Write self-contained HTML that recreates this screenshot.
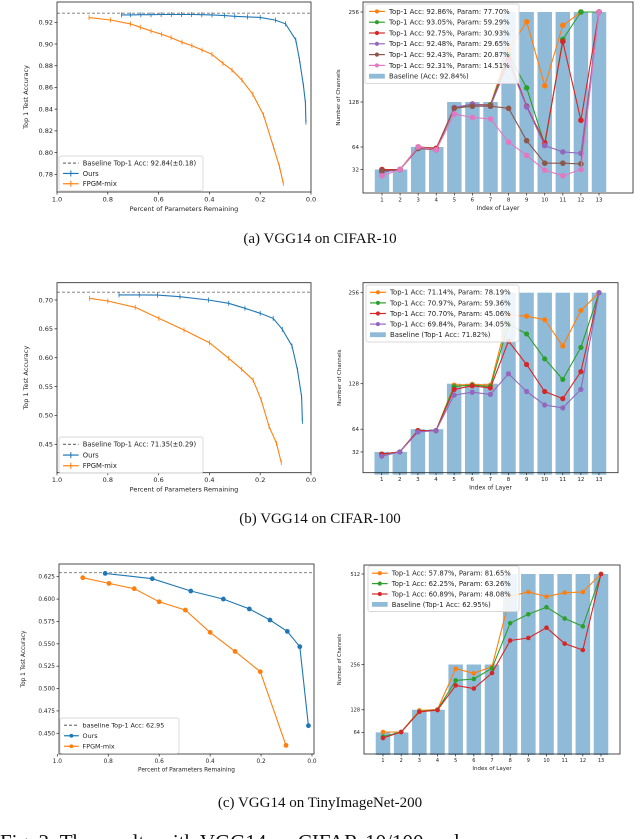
<!DOCTYPE html>
<html><head><meta charset="utf-8">
<style>
html,body{margin:0;padding:0;background:#fff;}
svg{display:block;font-family:"DejaVu Sans","Liberation Sans",sans-serif;}
.cap{font-family:"Liberation Serif",serif;}
</style></head>
<body>
<svg id="fig" width="640" height="839" viewBox="0 0 640 839" xmlns="http://www.w3.org/2000/svg">
<rect width="640" height="839" fill="#fff"/>
<text class="cap" x="320" y="243" font-size="15" text-anchor="middle" fill="#111">(a) VGG14 on CIFAR-10</text>
<text class="cap" x="320" y="523" font-size="15" text-anchor="middle" fill="#111">(b) VGG14 on CIFAR-100</text>
<text class="cap" x="320" y="807" font-size="15" text-anchor="middle" fill="#111">(c) VGG14 on TinyImageNet-200</text>
<text class="cap" x="0" y="849" font-size="21" fill="#111">Fig. 3:  The results with VGG14 on CIFAR-10/100 and</text>
</svg>
<script>
// ---- Chart A (CIFAR-10) ----
const aOursP=[0.746,0.71,0.67,0.63,0.59,0.55,0.51,0.47,0.43,0.39,0.34,0.3,0.25,0.2,0.14,0.1,0.06,0.045,0.03,0.022,0.02];
const aOursAcc=[0.9268,0.9268,0.927,0.927,0.9272,0.9272,0.9272,0.9272,0.927,0.9268,0.9262,0.9255,0.925,0.9245,0.922,0.9185,0.9037,0.885,0.862,0.846,0.828];
const aFpgmP=[0.874,0.789,0.711,0.672,0.63,0.589,0.551,0.508,0.469,0.429,0.39,0.347,0.311,0.272,0.229,0.187,0.148,0.124,0.109];
const aFpgmAcc=[0.9243,0.9221,0.9185,0.9154,0.912,0.909,0.9059,0.9016,0.8985,0.8945,0.8905,0.8822,0.876,0.8668,0.8537,0.8346,0.8054,0.787,0.7716];
const aBaseline=0.9284;
const aYTicks=[0.78,0.80,0.82,0.84,0.86,0.88,0.90,0.92];
const layers=[1,2,3,4,5,6,7,8,9,10,11,12,13];
const aBars=[32,32,64,64,128,128,128,256,256,256,256,256,256];
const aS1=[31,32,64,62,120,124,124,203,242,151,237,256,256];
const aS2=[31,32,64,62,120,124,124,195,148,67,217,256,256];
const aS3=[32,32,64,62,120,125,123,190,122,70,214,102,256];
const aS4=[28,32,62,60,120,125,122,185,121,66,57,55,256];
const aS5=[30,32,62,60,119,122,122,119,73,41,41,40,256];
const aS6=[23,32,64,60,111,106,104,71,52,31,23,32,256];
const aLegend=["Top-1 Acc: 92.86%, Param: 77.70%","Top-1 Acc: 93.05%, Param: 59.29%","Top-1 Acc: 92.75%, Param: 30.93%","Top-1 Acc: 92.48%, Param: 29.65%","Top-1 Acc: 92.43%, Param: 20.87%","Top-1 Acc: 92.31%, Param: 14.51%"];
const chanTicksAB=[32,64,128,256];
// ---- Chart B (CIFAR-100) ----
const bOursP=[0.756,0.676,0.604,0.516,0.404,0.324,0.26,0.2,0.149,0.113,0.075,0.053,0.037,0.034];
const bOursAcc=[0.7088,0.7088,0.7085,0.7058,0.70,0.6942,0.6856,0.6769,0.6682,0.6492,0.6203,0.5788,0.5326,0.4893];
const bFpgmP=[0.872,0.8,0.692,0.599,0.5,0.4,0.324,0.273,0.228,0.196,0.165,0.136,0.117];
const bFpgmAcc=[0.7029,0.6983,0.6873,0.6682,0.648,0.6261,0.599,0.58,0.5614,0.5268,0.4806,0.4517,0.4182];
const bBaseline=0.7135;
const bYTicks=[0.45,0.50,0.55,0.60,0.65,0.70];
const bS1=[29,32,62,62,126,127,126,225,223,218,181,231,256];
const bS2=[29,32,62,62,124,126,124,212,198,163,134,179,256];
const bS3=[29,32,62,62,120,125,122,188,155,117,107,145,256];
const bS4=[26,32,60,62,112,116,113,142,117,98,94,120,256];
const bLegend=["Top-1 Acc: 71.14%, Param: 78.19%","Top-1 Acc: 70.97%, Param: 59.36%","Top-1 Acc: 70.70%, Param: 45.06%","Top-1 Acc: 69.84%, Param: 34.05%"];
// ---- Chart C (TinyImageNet) ----
const cOursP=[0.812,0.627,0.476,0.348,0.246,0.165,0.097,0.048,0.014];
const cOursAcc=[0.6287,0.6228,0.609,0.600,0.589,0.5766,0.5639,0.5468,0.4585];
const cFpgmP=[0.90,0.797,0.698,0.60,0.497,0.40,0.302,0.203,0.102];
const cFpgmAcc=[0.6239,0.6175,0.6116,0.597,0.5877,0.5628,0.5415,0.5188,0.4365];
const cBaseline=0.6295;
const cYTicks=[0.450,0.475,0.500,0.525,0.550,0.575,0.600,0.625];
const cBars=[64,64,128,128,256,256,256,512,512,512,512,512,512];
const cS1=[65,65,126,129,244,231,250,449,461,448,459,461,512];
const cS2=[52,65,123,128,211,215,245,373,398,418,386,364,512];
const cS3=[48,65,122,127,197,188,232,324,331,360,315,297,512];
const cLegend=["Top-1 Acc: 57.87%, Param: 81.65%","Top-1 Acc: 62.25%, Param: 63.26%","Top-1 Acc: 60.89%, Param: 48.08%"];
const chanTicksC=[64,128,256,512];
const xTicksP=[1.0,0.8,0.6,0.4,0.2,0.0];

const NS="http://www.w3.org/2000/svg";
const svg=document.getElementById('fig');
const C={blue:"#1f77b4",orange:"#ff7f0e",green:"#2ca02c",red:"#d62728",purple:"#9467bd",brown:"#8c564b",pink:"#e377c2"};
function lin(d0,d1,r0,r1){return v=>r0+(v-d0)*(r1-r0)/(d1-d0);}
function mk(tag,attrs,parent){const e=document.createElementNS(NS,tag);for(const k in attrs)e.setAttribute(k,attrs[k]);(parent||svg).appendChild(e);return e;}
function grp(name){const g=mk('g',{});return g;}
function txt(g,x,y,s,size,anchor,rot){const t=mk('text',{x:x,y:y,'font-size':size,'text-anchor':anchor||'middle',fill:'#222'},g);if(rot)t.setAttribute('transform','rotate(-90 '+x+' '+y+')');t.textContent=s;return t;}

function frame(g,b){
  mk('rect',{x:b.l,y:b.t,width:b.r-b.l,height:b.b-b.t,fill:'none',stroke:'#222','stroke-width':0.8},g);
}
function xticks(g,b,vals,xs,fmt,fs){
  vals.forEach(v=>{const x=xs(v);mk('line',{x1:x,x2:x,y1:b.b,y2:b.b+2.5,stroke:'#222','stroke-width':0.7},g);
    const t=txt(g,x,b.b+fs+3,fmt(v),fs);});
}
function yticks(g,b,vals,ys,fmt,fs){
  vals.forEach(v=>{const y=ys(v);mk('line',{x1:b.l-2.5,x2:b.l,y1:y,y2:y,stroke:'#222','stroke-width':0.7},g);
    const t=txt(g,b.l-4,y+fs*0.35,fmt(v),fs,'end');});
}
function series(g,xs,ys,px,py,color,name,opt){
  const sg=mk('g',{},g);
  const pts=px.map((p,i)=>xs(p).toFixed(1)+','+ys(py[i]).toFixed(1)).join(' ');
  mk('polyline',{points:pts,fill:'none',stroke:color,'stroke-width':opt.lw||1.2},sg);
  px.forEach((p,i)=>{const x=xs(p),y=ys(py[i]);
    if(opt.err){mk('line',{x1:x,x2:x,y1:y-opt.err,y2:y+opt.err,stroke:color,'stroke-width':0.8},sg);}
    if(opt.r){const c=mk('circle',{cx:x,cy:y,r:opt.r,fill:color},sg);}
  });
}
function legend(g,x,y,w,rowH,entries,fs,name){
  const lg=mk('g',{},g);
  mk('rect',{x:x,y:y,width:w,height:rowH*entries.length+4,rx:2,fill:'#fff','fill-opacity':0.85,stroke:'#ccc','stroke-width':0.7},lg);
  entries.forEach((e,i)=>{const cy=y+2+rowH*(i+0.5);const x0=x+4,x1=x+4+fs*2.3;
    const eg=mk('g',{},lg);
    if(e.type==='bar'){mk('rect',{x:x0,y:cy-fs*0.35,width:x1-x0,height:fs*0.7,fill:'#8fbbd9'},eg);}
    else{mk('line',{x1:x0,x2:x1,y1:cy,y2:cy,stroke:e.color,'stroke-width':1.2,'stroke-dasharray':e.dash||''},eg);
      if(e.type==='dot')mk('circle',{cx:(x0+x1)/2,cy:cy,r:fs*0.3,fill:e.color},eg);
      if(e.type==='err')mk('line',{x1:(x0+x1)/2,x2:(x0+x1)/2,y1:cy-fs*0.45,y2:cy+fs*0.45,stroke:e.color,'stroke-width':1},eg);}
    txt(eg,x1+fs*0.6,cy+fs*0.35,e.label,fs,'start');
  });
}

function accChart(name,b,xs,ys,yt,yfmt,fs,oursP,oursA,fpP,fpA,base,opt){
  const g=grp(name);
  mk('line',{x1:b.l,x2:b.r,y1:ys(base),y2:ys(base),stroke:'#777','stroke-width':0.9,'stroke-dasharray':'3,2'},g);
  const so={err:opt.err,r:opt.r,lw:opt.lw};
  series(g,xs,ys,fpP,fpA,C.orange,'fpgm-mix-series',so);
  series(g,xs,ys,oursP,oursA,C.blue,'ours-series',so);
  frame(g,b);
  xticks(g,b,xTicksP,xs,v=>v.toFixed(1),fs);
  yticks(g,b,yt,ys,yfmt,fs);
  const xt=txt(g,(b.l+b.r)/2,b.b+fs*2+6,'Percent of Parameters Remaining',fs);
  const yy=txt(g,opt.ytx,(b.t+b.b)/2,'Top 1 Test Accuracy',fs,'middle',true);
  const t=opt.err?'err':'dot';
  legend(g,opt.lx,opt.ly,opt.legW,opt.lrow,[{type:'line',color:'#777',dash:'3,2',label:opt.blabel},{type:t,color:C.blue,label:'Ours'},{type:t,color:C.orange,label:'FPGM-mix'}],opt.lfs,'accuracy-legend');
}
function chanChart(name,b,xs,ys,bars,ser,cols,labels,baseLabel,ticks,fs,opt){
  const g=grp(name);
  const bw=(xs(2)-xs(1))*0.8;
  const bg=mk('g',{},g);
  bars.forEach((v,i)=>{const r=mk('rect',{x:xs(layers[i])-bw/2,y:ys(v),width:bw,height:ys(0)-ys(v),fill:'#8fbbd9'},bg);
    });
  ser.forEach((s,k)=>series(g,xs,ys,layers,s,cols[k],'channel-series-'+(k+1),{r:opt.r,lw:1.1}));
  frame(g,b);
  xticks(g,b,layers,xs,v=>String(v),fs);
  yticks(g,b,ticks,ys,v=>String(v),fs);
  const xt=txt(g,(b.l+b.r)/2,b.b+fs*2+6,'Index of Layer',fs+0.5);
  const yy=txt(g,opt.ytx,(b.t+b.b)/2,'Number of Channels',fs,'middle',true);
  const ents=labels.map((l,i)=>({type:'dot',color:cols[i],label:l}));ents.push({type:'bar',label:baseLabel});
  legend(g,opt.lx,opt.ly,opt.legW,opt.lrow,ents,opt.lfs,'channels-legend');
}

// A
const bA={l:57,r:311,t:2,b:192};
accChart('chart-a-accuracy',bA,lin(1,0,57,311),lin(0.92,0.78,22.3,174.3),aYTicks,v=>v.toFixed(2),6.5,aOursP,aOursAcc,aFpgmP,aFpgmAcc,aBaseline,{err:2.5,lw:1.1,ytx:28,lx:59,ly:156,legW:144,lrow:10.3,lfs:6.8,blabel:'Baseline Top-1 Acc: 92.84(±0.18)'});
const bAr={l:363,r:633,t:2,b:193};
chanChart('chart-a-channels',bAr,lin(1,13,382,599),lin(0,256,192,12),aBars,[aS1,aS2,aS3,aS4,aS5,aS6],[C.orange,C.green,C.red,C.purple,C.brown,C.pink],aLegend,'Baseline (Acc: 92.84%)',chanTicksAB,5.5,{r:2.8,ytx:340,lx:365,ly:4,legW:154,lrow:10.8,lfs:6.9});
// B
const bB={l:57,r:311,t:282.7,b:472.7};
accChart('chart-b-accuracy',bB,lin(1,0,57,311),lin(0.70,0.45,300,444.3),bYTicks,v=>v.toFixed(2),6.5,bOursP,bOursAcc,bFpgmP,bFpgmAcc,bBaseline,{err:2.5,lw:1.1,ytx:28,lx:59,ly:437,legW:144,lrow:10.7,lfs:6.8,blabel:'Baseline Top-1 Acc: 71.35(±0.29)'});
const bBr={l:363,r:618,t:282.7,b:472.7};
chanChart('chart-b-channels',bBr,lin(1,13,381.7,599),lin(0,256,474.7,292.7),aBars,[bS1,bS2,bS3,bS4],[C.orange,C.green,C.red,C.purple],bLegend,'Baseline (Top-1 Acc: 71.82%)',chanTicksAB,5.5,{r:2.6,ytx:341,lx:366,ly:285,legW:153,lrow:10.6,lfs:6.9});
// C
const bC={l:59,r:314,t:564,b:754};
accChart('chart-c-accuracy',bC,lin(1,0,57.3,312),lin(0.625,0.45,576.7,733.3),cYTicks,v=>v.toFixed(3),5.8,cOursP,cOursAcc,cFpgmP,cFpgmAcc,cBaseline,{r:2.4,lw:1.1,ytx:25,lx:60,ly:718,legW:119,lrow:10.5,lfs:6.4,blabel:'baseline Top-1 Acc: 62.95'});
const bCr={l:364,r:620,t:565,b:754};
chanChart('chart-c-channels',bCr,lin(1,13,383,601),lin(0,512,755,574),cBars,[cS1,cS2,cS3],[C.orange,C.green,C.red],cLegend,'Baseline (Top-1 Acc: 62.95%)',chanTicksC,5,{r:2.3,ytx:341,lx:368,ly:566,legW:151,lrow:10.4,lfs:6.8});
</script>
</body></html>
